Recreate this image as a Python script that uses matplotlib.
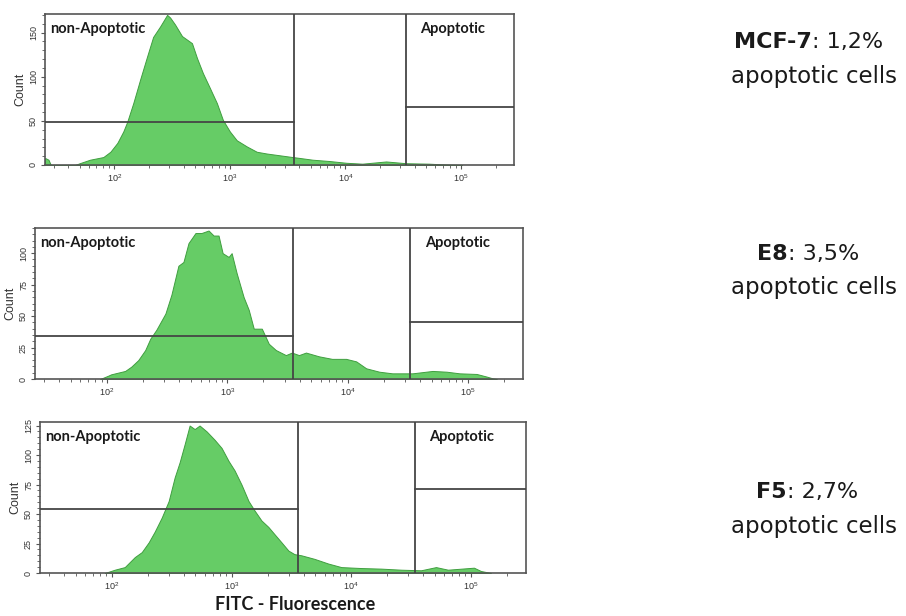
import numpy as np
import matplotlib
matplotlib.use("Agg")
import matplotlib.pyplot as plt
from matplotlib.ticker import LogLocator, MultipleLocator, AutoMinorLocator

plt.rcParams["font.family"] = ["Liberation Sans", "DejaVu Sans"]

# histogram traces: log10(FITC) and count
mcf7_log = [1.40, 1.43, 1.45, 1.66, 1.70, 1.79, 1.905, 1.966, 2.026, 2.078, 2.112, 2.164,
            2.224, 2.284, 2.336, 2.397, 2.457, 2.483, 2.526, 2.586, 2.629, 2.672, 2.716,
            2.767, 2.828, 2.888, 2.940, 3.000, 3.060, 3.147, 3.233, 3.319, 3.431, 3.543,
            3.603, 3.716, 3.862, 4.009, 4.147, 4.353, 4.526, 4.724, 4.871, 5.009]
mcf7_count = [8, 6, 0, 0, 2, 6, 9, 15, 25, 38, 49, 70, 97, 123, 145, 157, 170, 167, 159,
              146, 142, 138, 121, 104, 87, 70, 51, 38, 28, 21, 15, 13, 11, 9, 8, 6, 4.5,
              2.5, 1.5, 4, 2, 1.5, 0.5, 0]

e8_log = [1.942, 2.008, 2.033, 2.150, 2.201, 2.259, 2.317, 2.359, 2.409, 2.485, 2.535,
          2.593, 2.635, 2.677, 2.735, 2.785, 2.844, 2.886, 2.927, 2.961, 3.011, 3.036,
          3.078, 3.136, 3.178, 3.220, 3.287, 3.345, 3.404, 3.487, 3.537, 3.596, 3.654,
          3.763, 3.871, 3.988, 4.072, 4.155, 4.264, 4.373, 4.540, 4.707, 4.824, 4.932,
          5.074, 5.158, 5.208, 5.241]
e8_count = [0, 2.6, 3.7, 6.4, 9.8, 15, 23, 32, 39, 52, 67, 90, 93, 108, 116, 116, 118, 114,
            114, 100, 97, 100, 84, 65, 55, 40, 40, 28, 23, 19, 21, 19, 21, 18, 16, 16, 14,
            8.5, 5.8, 4.5, 4.5, 6.4, 5.8, 4.5, 4, 1.9, 0.5, 0]

f5_log = [1.942, 2.025, 2.108, 2.192, 2.25, 2.308, 2.358, 2.417, 2.475, 2.525, 2.567,
          2.608, 2.65, 2.692, 2.733, 2.792, 2.858, 2.917, 2.975, 3.025, 3.083, 3.142,
          3.192, 3.25, 3.308, 3.358, 3.417, 3.475, 3.525, 3.583, 3.692, 3.808, 3.917,
          4.083, 4.25, 4.417, 4.583, 4.708, 4.808, 5.025, 5.083, 5.167]
f5_count = [0, 2.8, 5, 13.5, 17.7, 26, 35, 47, 61, 81, 94, 109, 125, 122, 125, 120, 113,
            106, 95, 87, 75, 61, 53, 44.5, 39, 33, 26, 19, 16, 15, 12, 8, 5, 4.2, 3.7, 2.8,
            2.3, 5, 2.8, 4.5, 1.7, 0]

# gates: (non-apoptotic upper edge, apoptotic lower edge) in log10, marker heights
gate_nonapo = [3.552, 3.546, 3.558]
gate_apo = [4.526, 4.523, 4.533]
level_nonapo = [49, 34, 54]
level_apo = [66, 45, 71]
y_max = [171, 120, 128]
y_step = [50, 25, 25]

samples = ["MCF-7", "E8", "F5"]
percent = ["1,2%", "3,5%", "2,7%"]

W, H = 906, 616
fig = plt.figure(figsize=(W / 100, H / 100), dpi=100)

def px_box(left, top, right, bottom):
    return [left / W, 1 - bottom / H, (right - left) / W, (bottom - top) / H]

boxes = [px_box(45, 14, 514, 165), px_box(35, 228, 523, 379), px_box(40, 422, 526, 573)]
traces = [(mcf7_log, mcf7_count), (e8_log, e8_count), (f5_log, f5_count)]
text_y = [(42, 77), (254, 288), (492, 526)]
colon_x = [812, 788, 787]

green = "#66cc66"
edge = "#3f9e3f"
line_c = "#454545"
xlo, xhi = 10 ** 1.4, 10 ** 5.46

for i in range(3):
    ax = fig.add_axes(boxes[i])
    lx, cnt = traces[i]
    x = 10 ** np.array(lx)
    ax.fill_between(x, cnt, 0, color=green, edgecolor=edge, linewidth=0.7, zorder=2)
    ax.set_xscale("log")
    ax.set_xlim(xlo, xhi)
    ax.set_ylim(0, y_max[i])

    # gates
    g1 = 10 ** gate_nonapo[i]
    g2 = 10 ** gate_apo[i]
    ax.plot([xlo, g1], [level_nonapo[i]] * 2, color=line_c, lw=1.3, zorder=3)
    ax.axvline(g1, color=line_c, lw=1.3, zorder=3)
    ax.axvline(g2, color=line_c, lw=1.3, zorder=3)
    ax.plot([g2, xhi], [level_apo[i]] * 2, color=line_c, lw=1.3, zorder=3)

    ax.text(0.011, 0.9, "non-Apoptotic", transform=ax.transAxes, fontfamily="Lato",
            fontweight="bold", fontsize=10.5, va="center", ha="left", color="#1a1a1a")
    ax.text(0.80, 0.9, "Apoptotic", transform=ax.transAxes, fontfamily="Lato",
            fontweight="bold", fontsize=10.5, va="center", ha="left", color="#1a1a1a")

    for s in ax.spines.values():
        s.set_color("#555555")
        s.set_linewidth(1.2)

    ax.xaxis.set_major_locator(LogLocator(base=10, numticks=10))
    ax.xaxis.set_minor_locator(LogLocator(base=10, subs=np.arange(2, 10), numticks=10))
    ax.yaxis.set_major_locator(MultipleLocator(y_step[i]))
    ax.yaxis.set_minor_locator(AutoMinorLocator(5))
    ax.tick_params(which="both", direction="out", colors="#555555", labelcolor="#333333")
    ax.tick_params(which="major", length=3, labelsize=6.5, pad=2)
    ax.tick_params(which="minor", length=2)
    for lab in ax.get_yticklabels():
        lab.set_rotation(90)
        lab.set_va("center")
    ax.set_ylabel("Count", fontsize=9, color="#333333", labelpad=2)

    # sample annotation on the right
    ty1, ty2 = text_y[i]
    fig.text(colon_x[i] / W, 1 - ty1 / H, samples[i], ha="right", va="center",
             fontfamily="DejaVu Sans", fontsize=16, fontweight="bold", color="#1a1a1a")
    fig.text(colon_x[i] / W, 1 - ty1 / H, ": " + percent[i], ha="left", va="center",
             fontfamily="DejaVu Sans", fontsize=16, color="#1a1a1a")
    fig.text(814 / W, 1 - ty2 / H, "apoptotic cells", ha="center", va="center",
             fontfamily="DejaVu Sans", fontsize=16.5, color="#1a1a1a")

fig.text(295 / W, 1 - 604 / H, "FITC - Fluorescence", ha="center", va="center",
         fontfamily="Lato", fontweight="bold", fontsize=13, color="#1a1a1a")

fig.savefig("out.png", dpi=100, facecolor="white")
